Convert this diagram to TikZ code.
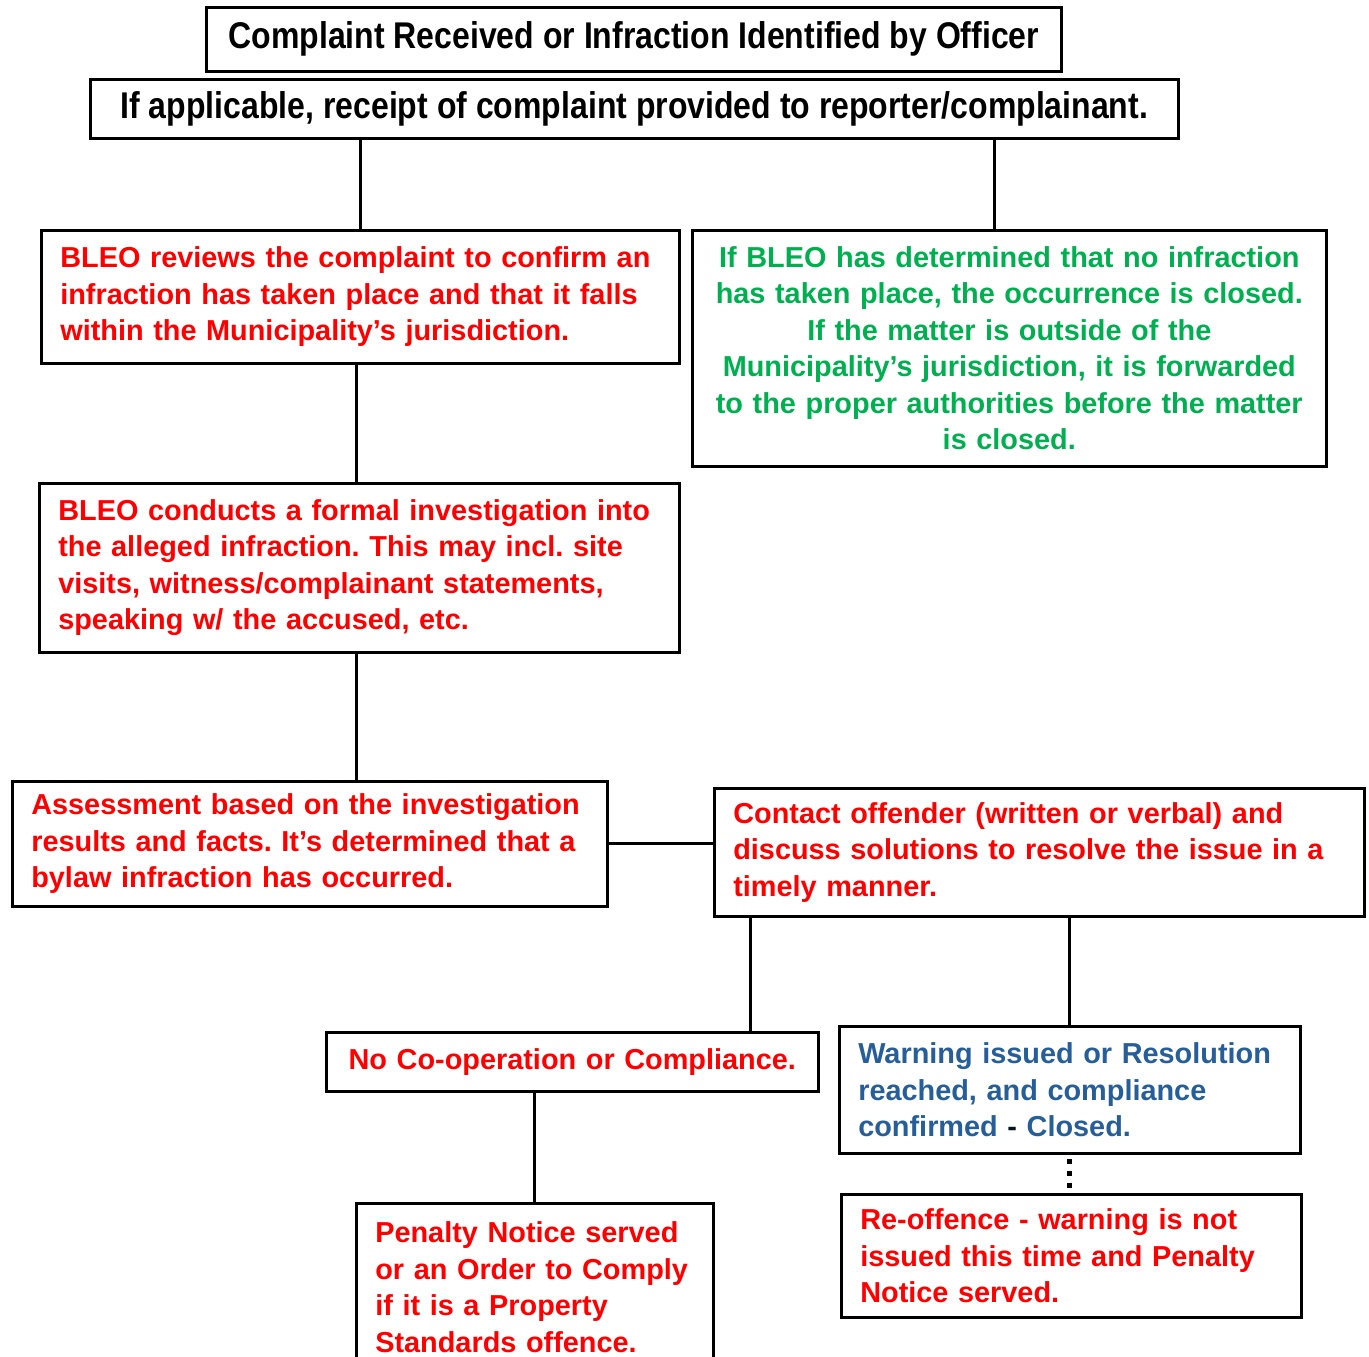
\documentclass[tikz,border=0pt]{standalone}
\usepackage{fontspec}
\setmainfont{Liberation Sans}
\usetikzlibrary{positioning,calc}
\definecolor{alertred}{HTML}{FF0000}
\definecolor{closegreen}{HTML}{00B050}
\definecolor{okblue}{HTML}{265E99}
\frenchspacing
\newcommand{\bodyfont}{\fontsize{14.43pt}{18.25pt}\selectfont\bfseries\hyphenpenalty=10000}
\newcommand{\headfont}{\fontsize{18.6pt}{20pt}\selectfont\bfseries}
\tikzset{
  stepbox/.style={draw=black,line width=1.3pt,anchor=north west,inner sep=0pt,
    align=left,font=\bodyfont},
  headbox/.style={draw=black,line width=1.3pt,anchor=north west,inner sep=0pt,
    align=center,font=\headfont},
  link/.style={draw,line width=1.5pt},
  dotlink/.style={draw,line width=2.5pt,dash pattern=on 2.5pt off 3.5pt}}
\begin{document}
\begin{tikzpicture}[x=0.5pt,y=-0.5pt]
\useasboundingbox (0,0) rectangle (1369,1356);
% top of the chart
\node[headbox,minimum width=427.5pt,minimum height=32pt] (received) at (205,6)
  {\scalebox{0.86}[1]{Complaint Received or Infraction Identified by Officer}};
\node[headbox,minimum width=544pt,minimum height=29.5pt] (receipt) at (89,78)
  {\scalebox{0.86}[1]{If applicable, receipt of complaint provided to reporter/complainant.}};
% review and closing
\node[stepbox,text=alertred,text width=300pt,minimum width=319pt,minimum height=66.5pt] (review) at (40,229)
  {BLEO reviews the complaint to confirm an\\infraction has taken place and that it falls\\within the Municipality’s jurisdiction.};
\node[stepbox,text=closegreen,align=center,text width=310pt,minimum width=317pt,minimum height=118pt] (closed) at (691,229)
  {If BLEO has determined that no infraction\\has taken place, the occurrence is closed.\\If the matter is outside of the\\Municipality’s jurisdiction, it is forwarded\\to the proper authorities before the matter\\is closed.};
\node[stepbox,text=alertred,text width=301pt,minimum width=320pt,minimum height=84.5pt] (investigate) at (38,482)
  {BLEO conducts a formal investigation into\\the alleged infraction. This may incl. site\\visits, witness/complainant statements,\\speaking w/ the accused, etc.};
\node[stepbox,text=alertred,text width=278.5pt,minimum width=297.5pt,minimum height=62.5pt] (assess) at (11,780)
  {Assessment based on the investigation\\results and facts. It’s determined that a\\bylaw infraction has occurred.};
\node[stepbox,text=alertred,text width=306pt,minimum width=325pt,minimum height=64pt] (contact) at (713,787)
  {Contact offender (written or verbal) and\\discuss solutions to resolve the issue in a\\timely manner.};
% outcomes
\node[stepbox,text=alertred,align=center,text width=240pt,minimum width=246pt,minimum height=29.5pt] (nocoop) at (325,1031)
  {No Co-operation or Compliance.};
\node[stepbox,text=okblue,text width=211.5pt,minimum width=230.5pt,minimum height=63.5pt] (warning) at (838,1025)
  {Warning issued or Resolution\\reached, and compliance\\confirmed \textcolor{black!80!okblue}{-} Closed.};
\node[stepbox,text=alertred,text width=159.5pt,minimum width=178.5pt,minimum height=84pt] (penalty) at (355,1202)
  {Penalty Notice served\\or an Order to Comply\\if it is a Property\\Standards offence.};
\node[stepbox,text=alertred,text width=211pt,minimum width=230pt,minimum height=61.5pt] (reoffence) at (840,1193)
  {Re-offence - warning is not\\issued this time and Penalty\\Notice served.};
% connectors
\draw[link] (receipt.south -| review.north) -- (review.north);
\draw[link] ([xshift=-7.5pt]closed.north |- receipt.south) -- ([xshift=-7.5pt]closed.north);
\draw[link] ([xshift=-2pt]review.south) -- ([xshift=-2pt]review.south |- investigate.north);
\draw[link] ([xshift=-1.5pt]investigate.south) -- ([xshift=-1.5pt]investigate.south |- assess.north);
\draw[link] (assess.east) -- (assess.east -| contact.west);
\draw[link] ([xshift=18.5pt]contact.south west) -- ([xshift=18.5pt]contact.south west |- nocoop.north);
\draw[link] (warning.north |- contact.south) -- (warning.north);
\draw[link] (nocoop.south -| penalty.north) -- (penalty.north);
\draw[dotlink] ([yshift=-2pt]warning.south) -- (warning.south |- reoffence.north);
\end{tikzpicture}
\end{document}
